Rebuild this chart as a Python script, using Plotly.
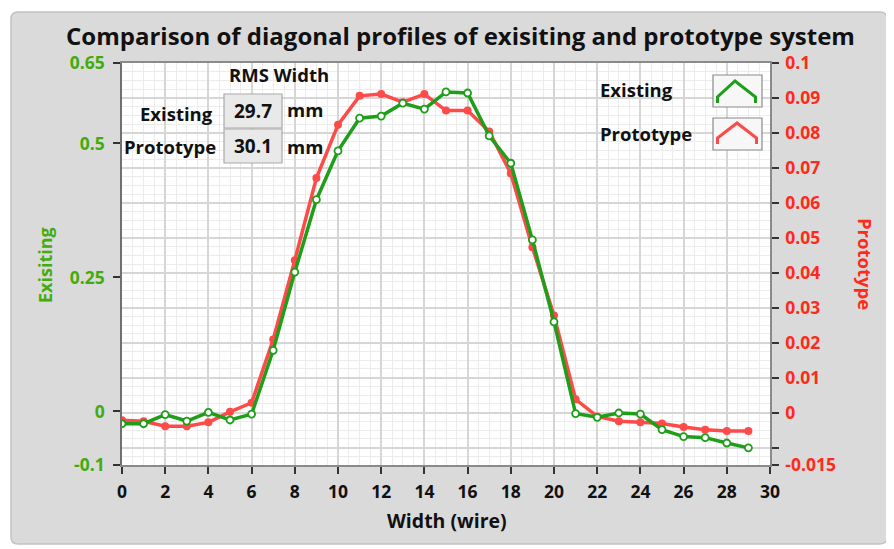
import plotly.graph_objects as go

# ---------------- data ----------------
wire = list(range(30))
existing = [-0.023, -0.023, -0.006, -0.018, -0.002, -0.016, -0.005, 0.114, 0.260, 0.395,
            0.486, 0.547, 0.551, 0.575, 0.564, 0.596, 0.594, 0.514, 0.463, 0.320,
            0.167, -0.004, -0.011, -0.003, -0.005, -0.034, -0.047, -0.049, -0.059, -0.068]
prototype = [-0.0022, -0.0025, -0.0039, -0.0039, -0.0028, 0.0002, 0.0028, 0.0209, 0.0436, 0.0671,
             0.0823, 0.0906, 0.0911, 0.0888, 0.0911, 0.0864, 0.0864, 0.0804, 0.0684, 0.0473,
             0.0278, 0.0038, -0.0011, -0.0025, -0.0028, -0.0031, -0.0041, -0.0049, -0.0053, -0.0053]
x_ticks = list(range(0, 31, 2))
left_tickvals = [-0.1, 0, 0.25, 0.5, 0.65]
left_ticktext = ["-0.1", "0", "0.25", "0.5", "0.65"]
right_tickvals = [-0.015, -0.01, 0, 0.01, 0.02, 0.03, 0.04, 0.05, 0.06, 0.07, 0.08, 0.09, 0.1]
right_ticktext = ["-0.015", "", "0", "0.01", "0.02", "0.03", "0.04", "0.05", "0.06", "0.07", "0.08", "0.09", "0.1"]
rms_existing = "29.7"
rms_prototype = "30.1"

# ---------------- style ----------------
# page coordinates of the window (the html body has an 8px margin)
OFF = 8
W, H = 894 - OFF, 549 - OFF
PL, PR, PT, PB = 122, 770, 63, 465
FONT = "Open Sans"
GREEN = "#1f9e1a"
GREEN_TXT = "#42ac0c"
RED = "#ff4a4a"
RED_TXT = "#ff2a1a"
PANEL = "#dadada"
TICKSIZE = 17.5
LBLSIZE = 18.5


def px(x):
    return (x - PL) / (PR - PL)


def py(y):
    return (PB - y) / (PB - PT)


fig = go.Figure()

fig.add_trace(go.Scatter(
    x=wire, y=prototype, yaxis="y", mode="lines+markers", name="Prototype",
    line=dict(color=RED, width=3.5),
    marker=dict(symbol="circle", size=8, color=RED),
    showlegend=False))
fig.add_trace(go.Scatter(
    x=wire, y=existing, yaxis="y2", mode="lines+markers", name="Existing",
    line=dict(color=GREEN, width=3.5),
    marker=dict(symbol="circle", size=7, color="#ffffff", line=dict(color=GREEN, width=1.8)),
    showlegend=False))

shapes = []
# panel background with rounded corners
x0, y0, x1, y1, r = 11, 12, 887, 544, 7
path = (f"M {px(x0+r)},{py(y0)} L {px(x1-r)},{py(y0)} Q {px(x1)},{py(y0)} {px(x1)},{py(y0+r)} "
        f"L {px(x1)},{py(y1-r)} Q {px(x1)},{py(y1)} {px(x1-r)},{py(y1)} "
        f"L {px(x0+r)},{py(y1)} Q {px(x0)},{py(y1)} {px(x0)},{py(y1-r)} "
        f"L {px(x0)},{py(y0+r)} Q {px(x0)},{py(y0)} {px(x0+r)},{py(y0)} Z")
shapes.append(dict(type="path", xref="paper", yref="paper", path=path, layer="below",
                   fillcolor=PANEL, line=dict(color="#c2c2c2", width=1.5)))
# white plot area
shapes.append(dict(type="rect", xref="paper", yref="paper", x0=0, x1=1, y0=0, y1=1,
                   layer="below", fillcolor="#ffffff", line=dict(width=0)))


def box(xa, ya, xb, yb, fill="#e9e9e9", line="#a9a9a9"):
    shapes.append(dict(type="rect", xref="paper", yref="paper",
                       x0=px(xa), x1=px(xb), y0=py(yb), y1=py(ya),
                       fillcolor=fill, line=dict(color=line, width=1.2), layer="above"))


# RMS value boxes
box(224, 94, 282, 128)
box(224, 129, 282, 163)
# legend icon boxes
box(713, 75, 762, 107, fill="#f7f7f7", line="#8a8a8a")
box(713, 118, 762, 150, fill="#f7f7f7", line="#8a8a8a")


def icon(points, color):
    p = "M " + " L ".join(f"{px(a)},{py(b)}" for a, b in points)
    shapes.append(dict(type="path", xref="paper", yref="paper", path=p,
                       line=dict(color=color, width=3), layer="above"))


icon([(717.5, 103), (717.5, 97), (735, 81), (755.5, 97), (755.5, 103)], GREEN)
icon([(717.5, 144), (717.5, 138), (737, 123), (756.5, 138), (756.5, 144)], RED)

annotations = []


def ann(text, x, y, xanchor="center", size=LBLSIZE, color="#111111", angle=0, bold=True):
    annotations.append(dict(
        text=f"<b>{text}</b>" if bold else text, xref="paper", yref="paper",
        x=px(x), y=py(y), xanchor=xanchor, yanchor="middle", showarrow=False,
        textangle=angle, font=dict(family=FONT, size=size, color=color)))


ann("Comparison of diagonal profiles of exisiting and prototype system", 460, 35, size=24)
ann("Width (wire)", 447, 520, size=19.5)
ann("Exisiting", 45, 265, size=18, color=GREEN_TXT, angle=-90)
ann("Prototype", 866, 264, size=18.5, color=RED_TXT, angle=90)
ann("RMS Width", 279, 74)
ann("Existing", 215, 113, xanchor="right")
ann("Prototype", 218, 146, xanchor="right")
ann(rms_existing, 253, 111, size=19)
ann(rms_prototype, 253, 146, size=19)
ann("mm", 285, 110, xanchor="left")
ann("mm", 285, 146, xanchor="left")
ann("Existing", 598, 90, xanchor="left")
ann("Prototype", 598, 133, xanchor="left")

fig.update_layout(
    width=W, height=H,
    margin=dict(l=PL - OFF, r=894 - PR, t=PT - OFF, b=549 - PB, pad=0),
    paper_bgcolor="#ffffff", plot_bgcolor="#ffffff",
    font=dict(family=FONT),
    shapes=shapes, annotations=annotations,
    xaxis=dict(range=[0, 30], tickvals=x_ticks, ticks="outside", ticklen=7, tickwidth=1.5,
               tickcolor="#333333", ticklabelstandoff=3,
               tickfont=dict(family=FONT, size=TICKSIZE, color="#111111", weight="bold"),
               showline=True, linecolor="#8a8a8a", linewidth=1.5, mirror=True,
               showgrid=True, gridcolor="#d6d6d6", gridwidth=1.5, zeroline=False,
               minor=dict(dtick=0.5, tick0=0, showgrid=True, gridcolor="#ececec", gridwidth=1)),
    yaxis=dict(range=[-0.015, 0.1], side="right", tickvals=right_tickvals, ticktext=right_ticktext,
               ticks="outside", ticklen=7, tickwidth=1.5, tickcolor="#333333", ticklabelstandoff=3,
               tickfont=dict(family=FONT, size=TICKSIZE, color=RED_TXT, weight="bold"),
               showline=True, linecolor="#8a8a8a", linewidth=1.5,
               showgrid=True, gridcolor="#d6d6d6", gridwidth=1.5, zeroline=False,
               minor=dict(tickmode="linear", tick0=0, dtick=0.0025, showgrid=True,
                          gridcolor="#ececec", gridwidth=1)),
    yaxis2=dict(range=[-0.1, 0.65], overlaying="y", side="left",
                tickvals=left_tickvals, ticktext=left_ticktext,
                ticks="outside", ticklen=7, tickwidth=1.5, tickcolor="#333333", ticklabelstandoff=5,
                tickfont=dict(family=FONT, size=TICKSIZE, color=GREEN_TXT, weight="bold"),
                showline=True, linecolor="#707070", linewidth=1.5,
                showgrid=False, zeroline=False),
)

fig.write_html("out.html")
